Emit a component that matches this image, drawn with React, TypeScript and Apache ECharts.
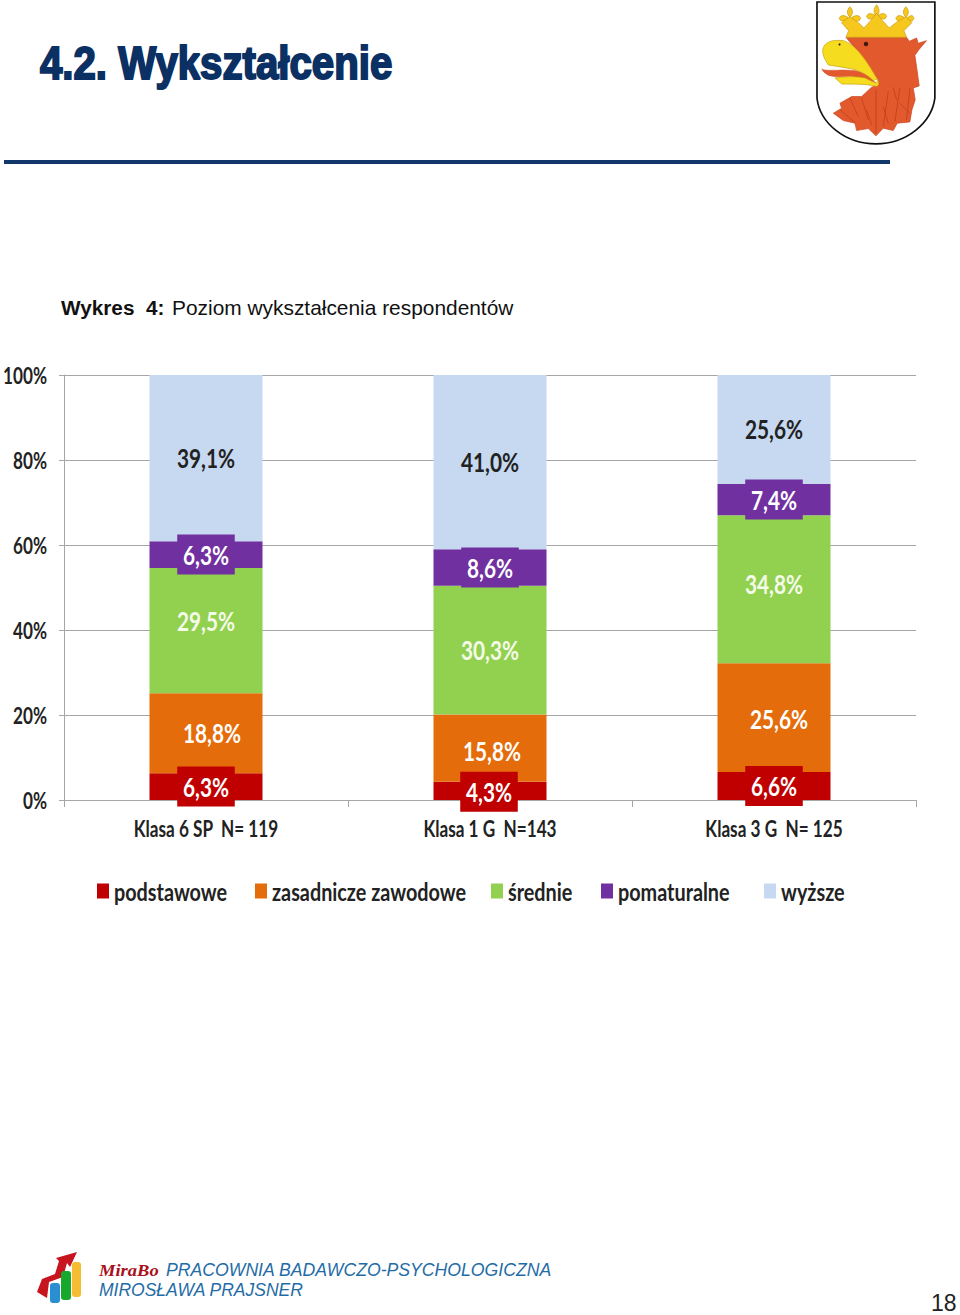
import React, { useEffect, useRef } from "react";
import * as echarts from "echarts";

const categories = ["Klasa 6 SP  N= 119", "Klasa 1 G  N=143", "Klasa 3 G  N= 125"];
const seriesNames = ["podstawowe", "zasadnicze zawodowe", "średnie", "pomaturalne", "wyższe"];
const legendLefts = [97, 255, 491, 601, 764];
const podstawowe = [6.3, 4.3, 6.6];
const zasadnicze = [18.8, 15.8, 25.6];
const srednie = [29.5, 30.3, 34.8];
const pomaturalne = [6.3, 8.6, 7.4];
const wyzsze = [39.1, 41.0, 25.6];
const colors = ["#c00000", "#e46c0a", "#92d050", "#7030a0", "#c6d9f1"];

const offRed = [[0, 0], [-1, 1], [0, 0]];
const offOrange = [[6, 0], [2, 3], [5, 1]];
const offGreen = [[0, -10], [0, 0], [0, -5]];
const offPurple = [[0, 0], [0, 0], [0, 0]];
const offBlue = [[0, 0], [0, 0], [0, 0]];

const FONT = "Lato, sans-serif";

const reg = (name: string, d: string) => {
  echarts.graphic.registerShape(name, echarts.graphic.extendPath(d, {}) as any);
};
reg("shield", "M51 6 L405 6 L405 295 C395 370 320 432 228 432 C135 432 60 370 51 295 Z");
reg("crown", "M138 112 L146 92 L125 68 L150 50 L175 68 L192 84 L212 62 L230 40 L248 62 L268 84 L288 68 L318 50 L336 68 L312 92 L320 112 Z");
reg("lobes", "M150 20 C160 30 160 42 150 52 C140 42 140 30 150 20 Z M230 14 C240 26 240 40 230 50 C220 40 220 26 230 14 Z M318 20 C328 30 328 42 318 52 C308 42 308 30 318 20 Z M118 56 C120 44 134 44 146 54 C136 66 122 66 118 56 Z M182 56 C180 44 166 44 154 54 C164 66 178 66 182 56 Z M200 50 C202 38 216 38 226 48 C216 60 204 60 200 50 Z M260 50 C258 38 244 38 234 48 C244 60 256 60 260 50 Z M288 56 C290 44 304 44 314 54 C304 66 292 66 288 56 Z M342 56 C340 44 332 44 322 54 C330 66 338 66 342 56 Z");
reg("head", "M138 112 L320 112 L328 124 L350 114 L355 130 L380 122 L358 148 L345 166 L350 200 L358 258 L340 264 L346 300 L336 330 L330 366 L292 370 L280 392 L250 385 L228 408 L205 386 L170 392 L165 370 L130 362 L100 340 L125 325 L120 310 L155 290 L185 290 L215 262 L235 255 L235 240 L165 145 Z");
reg("feathers", "M150 295 L175 350 M185 295 L205 360 M228 270 L228 400 M265 275 L250 380 M300 265 L285 365 M330 265 L320 360 M120 330 L165 368 M200 330 L215 375 M250 320 L265 370 M300 310 L330 340 M280 262 L290 300");
reg("beak", "M68 150 C72 128 92 118 130 122 C165 132 200 180 232 238 L220 242 C205 225 175 208 140 204 L85 195 C72 175 68 165 68 150 Z");
reg("tongue", "M65 207 C85 216 120 206 165 212 C195 218 215 235 228 250 C195 234 165 228 135 230 C105 232 78 232 65 207 Z");
reg("jaw", "M105 234 C135 230 165 228 195 234 L228 250 L234 240 C238 250 236 258 230 259 C190 250 150 254 125 252 Z");
reg("arrow", "M37 1292 L42 1279 L55 1274 L59 1261 L56 1258 L77 1252 L70 1267 L67 1263 L63 1277 L49 1282 L47 1298 Z");

const fmt = (v: number) => v.toFixed(1).replace(".", ",") + "%";

function series(i: number, values: number[], offs: number[][], boxed: boolean, color: string) {
  return {
    type: "bar",
    name: seriesNames[i],
    stack: "t",
    barWidth: 113,
    itemStyle: { color: colors[i] },
    data: values.map((v, k) => ({
      value: v,
      label: {
        show: true,
        position: "inside",
        offset: offs[k],
        formatter: () => fmt(v),
        color,
        fontFamily: FONT,
        fontWeight: "bold",
        fontSize: 26,
        ...(boxed ? { backgroundColor: colors[i], padding: [7, 0, 7, 0] } : {}),
      },
    })),
  };
}

export default function App() {
  const ref = useRef<HTMLDivElement>(null);
  useEffect(() => {
    document.body.style.margin = "0";
    const chart = echarts.init(ref.current!, undefined, { renderer: "svg" });
    const scaled = (type: string, style: any) => ({ type, x: 800, y: 0, scaleX: 1 / 3, scaleY: 1 / 3, style });
    const squeeze = () => {
      ref.current!.querySelectorAll("text").forEach((t: any) => {
        const st = (t.getAttribute("style") || "") + (t.style.font || "");
        if (!st.includes("Lato") || t.hasAttribute("textLength")) return;
        const k = st.includes("22px") ? 0.78 : st.includes("24px") ? 0.825 : 0.8;
        const len = t.getComputedTextLength();
        t.setAttribute("lengthAdjust", "spacingAndGlyphs");
        t.setAttribute("textLength", String(len * k));
      });
    };
    chart.on("finished", squeeze);
    chart.setOption({
      animation: false,
      backgroundColor: "#ffffff",
      textStyle: { fontFamily: FONT },
      grid: { left: 64, right: 44, top: 375, bottom: 515, containLabel: false, outerBoundsMode: "none" },
      legend: seriesNames.map((n, i) => ({
        left: legendLefts[i],
        top: 879,
        padding: 0,
        itemWidth: 12,
        itemHeight: 15,
        icon: "rect",
        selectedMode: false,
        data: [n],
        textStyle: { fontFamily: FONT, fontSize: 24, fontWeight: "bold", color: "#222222" },
      })),
      xAxis: {
        type: "category",
        data: categories,
        axisLine: { lineStyle: { color: "#a6a6a6", width: 1 } },
        axisTick: { show: true, length: 7, lineStyle: { color: "#a6a6a6" } },
        axisLabel: { fontFamily: FONT, fontSize: 22, fontWeight: "bold", color: "#222222", margin: 17 },
      },
      yAxis: {
        type: "value",
        min: 0,
        max: 100,
        interval: 20,
        axisLine: { show: true, lineStyle: { color: "#a6a6a6" } },
        axisTick: { show: true, length: 5, lineStyle: { color: "#a6a6a6" } },
        splitLine: { lineStyle: { color: "#a6a6a6", width: 1 } },
        axisLabel: { fontFamily: FONT, fontSize: 22, fontWeight: "bold", color: "#222222", margin: 17, padding: [0, 0, 6, 0], formatter: "{value}%" },
      },
      series: [
        series(0, podstawowe, offRed, true, "#ffffff"),
        series(1, zasadnicze, offOrange, false, "#ffffff"),
        series(2, srednie, offGreen, false, "#f4fbe8"),
        series(3, pomaturalne, offPurple, true, "#ffffff"),
        series(4, wyzsze, offBlue, false, "#222222"),
      ],
      graphic: [
        {
          type: "text",
          x: 40,
          y: 40,
          scaleX: 0.874,
          style: { text: "4.2. Wykształcenie", font: "bold 46px 'Liberation Sans'", fill: "#0b3063", stroke: "#0b3063", lineWidth: 2 },
        },
        { type: "rect", shape: { x: 4, y: 160, width: 886, height: 4 }, style: { fill: "#12386b" } },
        scaled("shield", { fill: "#ffffff", stroke: "#111111", lineWidth: 5 }),
        scaled("head", { fill: "#e2592d", stroke: "#c8431c", lineWidth: 2 }),
        scaled("feathers", { fill: "none", stroke: "#b83a18", lineWidth: 2 }),
        scaled("lobes", { fill: "#f6c81e", stroke: "#c99a10", lineWidth: 2 }),
        scaled("crown", { fill: "#f6c81e", stroke: "#c99a10", lineWidth: 2 }),
        scaled("tongue", { fill: "#e2592d", stroke: "#c8431c", lineWidth: 1 }),
        scaled("jaw", { fill: "#f6dc1e", stroke: "#c9a010", lineWidth: 2 }),
        scaled("beak", { fill: "#f6dc1e", stroke: "#c9a010", lineWidth: 2 }),
        { type: "circle", shape: { cx: 866, cy: 44, r: 2.2 }, style: { fill: "#3b1a10" } },
        { type: "circle", shape: { cx: 839.5, cy: 44.5, r: 1 }, style: { fill: "#3b1a10" } },
        { type: "text", x: 61, y: 297, style: { text: "Wykres  4:", font: "bold 20.75px 'Liberation Sans'", fill: "#111111" } },
        { type: "text", x: 172, y: 297, style: { text: "Poziom wykształcenia respondentów", font: "20.9px 'Liberation Sans'", fill: "#111111" } },
        { type: "arrow", style: { fill: "#c8141e" } },
        { type: "rect", shape: { x: 50, y: 1283, width: 10, height: 20, r: 3 }, style: { fill: "#2a8fd0" } },
        { type: "rect", shape: { x: 61, y: 1271, width: 10, height: 29, r: 3 }, style: { fill: "#18a82c" } },
        { type: "rect", shape: { x: 72, y: 1262, width: 9, height: 35, r: 3 }, style: { fill: "#f6bc32" } },
        { type: "text", x: 99, y: 1262, scaleX: 1.09, style: { text: "MiraBo", font: "italic bold 17px 'Liberation Serif'", fill: "#a8101c" } },
        { type: "text", x: 166, y: 1261, style: { text: "PRACOWNIA BADAWCZO-PSYCHOLOGICZNA", font: "italic 17.65px 'Liberation Sans'", fill: "#1f6ca6" } },
        { type: "text", x: 99, y: 1281, style: { text: "MIROSŁAWA PRAJSNER", font: "italic 17.5px 'Liberation Sans'", fill: "#1f6ca6" } },
        { type: "text", x: 931, y: 1291, style: { text: "18", font: "23px 'Liberation Sans'", fill: "#222222" } },
      ],
    });
    squeeze();
    return () => chart.dispose();
  }, []);
  return <div ref={ref} style={{ width: 960, height: 1315 }} />;
}
